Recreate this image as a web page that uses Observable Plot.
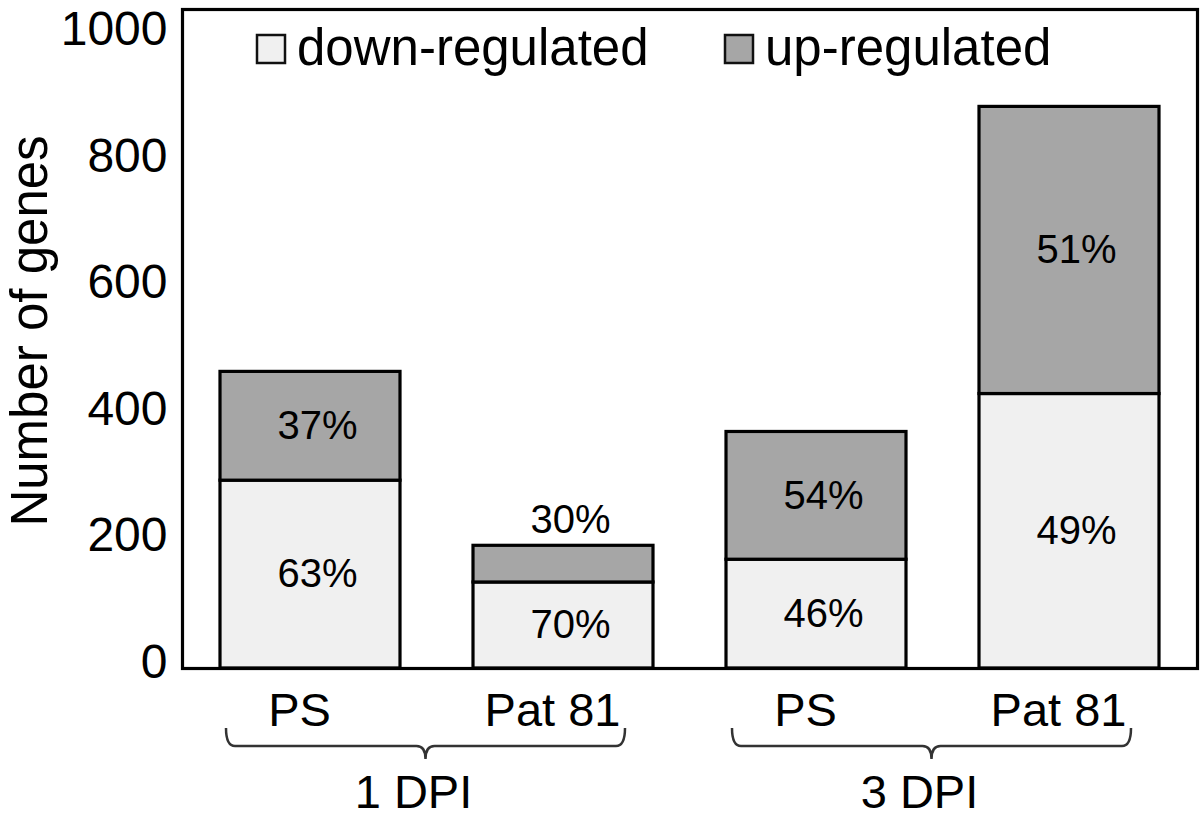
<!DOCTYPE html>
<html><head><meta charset="utf-8">
<script src="https://cdn.jsdelivr.net/npm/d3@7"></script>
<script src="https://cdn.jsdelivr.net/npm/@observablehq/plot@0.6"></script>
<style>html,body{margin:0;padding:0;background:#fff;} #chart svg{display:block}</style>
</head><body><div id="chart"></div>
<script>
// ---- data ----
const days = ["1 DPI", "1 DPI", "3 DPI", "3 DPI"];
const samples = ["PS", "Pat 81", "PS", "Pat 81"];
const downValues = [297, 136, 172, 434];
const upValues = [172, 58, 202, 454];
const downLabels = ["63%", "70%", "46%", "49%"];
const upLabels = ["37%", "30%", "54%", "51%"];
const seriesNames = ["down-regulated", "up-regulated"];
const seriesColors = ["#f0f0f0", "#a6a6a6"];
const yTicks = [0, 200, 400, 600, 800, 1000];
const yLabel = "Number of genes";

// ---- table built from the arrays ----
const keys = days.map((d, i) => d + "|" + samples[i]);
const rows = [];
keys.forEach((k, i) => {
  rows.push({key: k, series: seriesNames[0], base: 0, value: downValues[i], label: downLabels[i]});
  rows.push({key: k, series: seriesNames[1], base: downValues[i], value: upValues[i], label: upLabels[i]});
});
const inside = d => d.value >= 100;
const outside = d => d.value < 100;

const FONT = "'Liberation Sans', Arial, Helvetica, sans-serif";
const W = 1200, H = 820, ML = 182, MR = 3, MT = 9, MB = 152;
const labelDx = -11;

const plot = Plot.plot({
  width: W, height: H,
  marginLeft: ML, marginRight: MR, marginTop: MT, marginBottom: MB,
  style: {fontFamily: FONT, fontSize: "48px", color: "black", background: "white", overflow: "visible"},
  x: {domain: keys, paddingInner: 0.29, paddingOuter: 0.145, label: null},
  y: {domain: [0, 1042], label: null},
  color: {domain: seriesNames, range: seriesColors},
  marks: [
    Plot.barY(rows, {x: "key", y1: "base", y2: d => d.base + d.value, fill: "series", stroke: "black", strokeWidth: 3.2}),
    Plot.text(rows.filter(inside), {x: "key", y: d => d.base + d.value / 2, text: "label", fontSize: 40, dx: 7, fill: "black"}),
    Plot.text(rows.filter(outside), {x: "key", y: d => d.base + d.value, text: "label", fontSize: 40, dx: 7, dy: -26, fill: "black"}),
    Plot.axisY({ticks: yTicks, tickSize: 0, tickPadding: 15, fontSize: 48, dy: -6, tickFormat: d => String(d), label: null}),
    Plot.axisX({tickSize: 0, tickPadding: 24, fontSize: 47, dx: labelDx, tickFormat: k => k.split("|")[1], label: null}),
    Plot.text([yLabel], {frameAnchor: "left", textAnchor: "middle", text: d => d, rotate: -90, dx: -136, dy: -8, lineAnchor: "bottom", fontSize: 51, fill: "black"}),
    Plot.frame({stroke: "black", strokeWidth: 3.2})
  ]
});
document.getElementById("chart").appendChild(plot);

// ---- group braces, group labels and legend drawn from the Plot scales ----
const svg = d3.select(plot);
const xs = plot.scale("x");
const bw = xs.bandwidth;
const cx = k => xs.apply(k) + bw / 2 + labelDx;
const bottom = H - MB;
const yTop = bottom + 60, yLine = bottom + 78, yTip = bottom + 91;

const groups = Array.from(new Set(days));
groups.forEach(g => {
  const ks = keys.filter((k, i) => days[i] === g);
  const x0 = cx(ks[0]) - 73, x1 = cx(ks[ks.length - 1]) + 73;
  const xc = (cx(ks[0]) + cx(ks[ks.length - 1])) / 2;
  const r = 9;
  const path = `M${x0},${yTop} Q${x0},${yLine} ${x0 + r},${yLine} L${xc - r},${yLine} Q${xc},${yLine} ${xc},${yTip} Q${xc},${yLine} ${xc + r},${yLine} L${x1 - r},${yLine} Q${x1},${yLine} ${x1},${yTop}`;
  svg.append("path").attr("d", path).attr("fill", "none").attr("stroke", "#333").attr("stroke-width", 2.5);
  svg.append("text").attr("x", xc - 12).attr("y", bottom + 140)
    .attr("text-anchor", "middle").attr("font-size", 47).attr("font-family", FONT).attr("fill", "black").text(g);
});

const color = plot.scale("color");
const legendX = [257, 725];
seriesNames.forEach((s, i) => {
  svg.append("rect").attr("x", legendX[i]).attr("y", 35).attr("width", 28).attr("height", 28)
    .attr("fill", color.apply(s)).attr("stroke", "#111").attr("stroke-width", 2.5);
  svg.append("text").attr("x", legendX[i] + 40).attr("y", 65).attr("text-anchor", "start")
    .attr("font-size", 51).attr("font-family", FONT).attr("fill", "black").text(s);
});
</script>
</body></html>
